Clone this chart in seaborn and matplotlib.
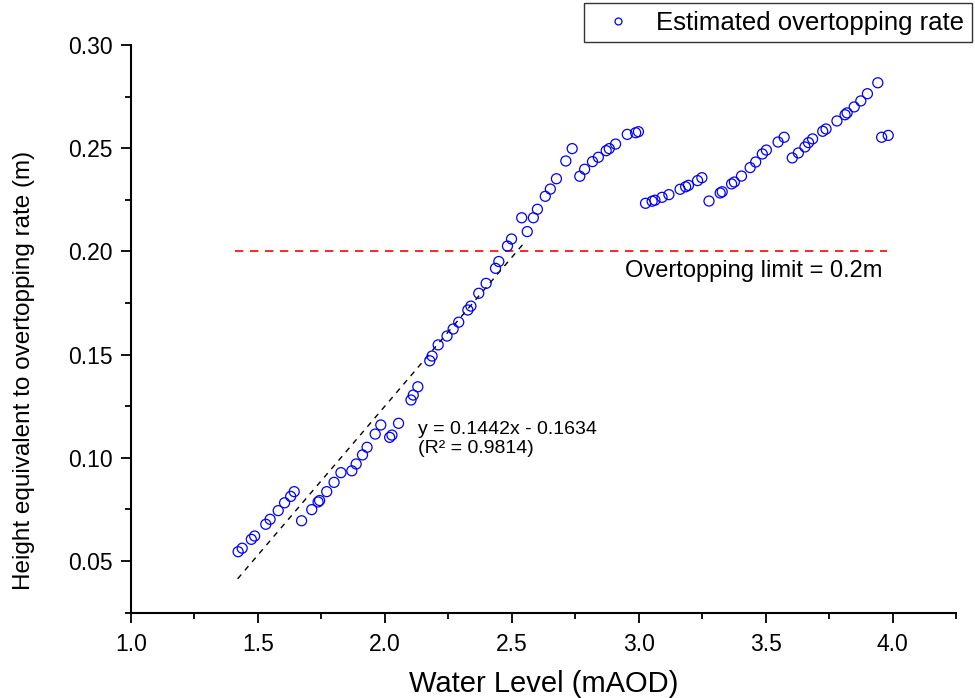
import matplotlib
matplotlib.use("Agg")
import matplotlib.pyplot as plt
from matplotlib.lines import Line2D
from matplotlib.ticker import MultipleLocator, FormatStrFormatter
import numpy as np
import pandas as pd
import seaborn as sns

# ---- data ----
water_level = [
    1.422, 1.438, 1.474, 1.487, 1.531, 1.548, 1.580, 1.605, 1.629, 1.643,
    1.672, 1.712, 1.737, 1.743, 1.771, 1.800, 1.827, 1.870, 1.887, 1.912,
    1.930, 1.962, 1.984, 2.019, 2.028, 2.054, 2.103, 2.112, 2.130, 2.177,
    2.186, 2.210, 2.245, 2.269, 2.291, 2.327, 2.339, 2.370, 2.399, 2.436,
    2.449, 2.483, 2.499, 2.539, 2.561, 2.585, 2.601, 2.632, 2.652, 2.676,
    2.713, 2.738, 2.768, 2.787, 2.818, 2.841, 2.872, 2.884, 2.909, 2.955,
    2.988, 2.999, 3.027, 3.053, 3.064, 3.092, 3.119, 3.163, 3.185, 3.196,
    3.232, 3.249, 3.277, 3.321, 3.329, 3.366, 3.377, 3.405, 3.439, 3.461,
    3.487, 3.503, 3.549, 3.573, 3.605, 3.629, 3.655, 3.669, 3.685, 3.725,
    3.738, 3.781, 3.813, 3.821, 3.849, 3.875, 3.901, 3.942, 3.957, 3.983,
]
overtop_height = [
    0.0545, 0.0562, 0.0605, 0.0621, 0.0678, 0.0702, 0.0744, 0.0782, 0.0813, 0.0836,
    0.0695, 0.0749, 0.0786, 0.0793, 0.0836, 0.0881, 0.0928, 0.0937, 0.0970, 0.1014,
    0.1051, 0.1115, 0.1159, 0.1099, 0.1110, 0.1167, 0.1280, 0.1304, 0.1344, 0.1470,
    0.1493, 0.1547, 0.1590, 0.1624, 0.1657, 0.1716, 0.1735, 0.1797, 0.1845, 0.1918,
    0.1951, 0.2026, 0.2060, 0.2163, 0.2096, 0.2163, 0.2204, 0.2267, 0.2302, 0.2352,
    0.2438, 0.2498, 0.2364, 0.2398, 0.2435, 0.2456, 0.2488, 0.2498, 0.2520, 0.2567,
    0.2575, 0.2580, 0.2233, 0.2243, 0.2248, 0.2262, 0.2275, 0.2301, 0.2313, 0.2320,
    0.2343, 0.2357, 0.2244, 0.2283, 0.2289, 0.2327, 0.2336, 0.2365, 0.2406, 0.2433,
    0.2472, 0.2491, 0.2530, 0.2553, 0.2453, 0.2477, 0.2506, 0.2527, 0.2545, 0.2582,
    0.2593, 0.2632, 0.2662, 0.2671, 0.2700, 0.2729, 0.2764, 0.2817, 0.2553, 0.2562,
]
fit_slope = 0.1442
fit_intercept = -0.1634
fit_r2 = 0.9814
fit_x_range = [1.42, 2.55]
limit_value = 0.2
limit_x_range = [1.41, 3.98]

series_label = "Estimated overtopping rate"
x_label = "Water Level (mAOD)"
y_label = "Height equivalent to overtopping rate (m)"
limit_text = "Overtopping limit = 0.2m"

df = pd.DataFrame({"x": water_level, "y": overtop_height})
fit_x = np.array(fit_x_range)
fit_df = pd.DataFrame({"x": fit_x, "y": fit_slope * fit_x + fit_intercept})
lim_df = pd.DataFrame({"x": limit_x_range, "y": [limit_value, limit_value]})

# ---- style ----
sns.set_style("ticks")
plt.rcParams["font.family"] = ["Liberation Sans", "DejaVu Sans"]
plt.rcParams["text.color"] = "black"
plt.rcParams["axes.labelcolor"] = "black"
plt.rcParams["xtick.color"] = "black"
plt.rcParams["ytick.color"] = "black"

fig = plt.figure(figsize=(9.75, 6.98), dpi=100)
ax = fig.add_axes([131 / 975, 1 - 612.6 / 698, (956 - 131) / 975, (612.6 - 45) / 698])

blue = "#0000FF"
sns.scatterplot(data=df, x="x", y="y", ax=ax, marker="o", s=52,
                linewidth=0.9, legend=False, zorder=3)
coll = ax.collections[0]
coll.set_facecolor("none")
coll.set_edgecolor(blue)

sns.lineplot(data=fit_df, x="x", y="y", ax=ax, color="black", linewidth=1.0,
             zorder=2)
ax.lines[-1].set_dashes([4, 4])
sns.lineplot(data=lim_df, x="x", y="y", ax=ax, color="#FF0000", linewidth=1.2,
             zorder=2)
ax.lines[-1].set_dashes([5, 4])

ax.text(2.132, 0.1089,
        f"y = {fit_slope:.4f}x - {abs(fit_intercept):.4f}\n(R\u00b2 = {fit_r2:.4f})",
        fontsize=14, ha="left", va="center", linespacing=1.15, color="black")
ax.text(2.947, 0.1905, limit_text, fontsize=17, ha="left", va="center",
        color="black")

ax.set_xlim(1.0, 4.25)
ax.set_ylim(0.025, 0.30)
ax.xaxis.set_major_locator(MultipleLocator(0.5))
ax.xaxis.set_minor_locator(MultipleLocator(0.25))
ax.yaxis.set_major_locator(MultipleLocator(0.05))
ax.yaxis.set_minor_locator(MultipleLocator(0.025))
ax.xaxis.set_major_formatter(FormatStrFormatter("%.1f"))
ax.yaxis.set_major_formatter(FormatStrFormatter("%.2f"))

sns.despine(ax=ax)
for side in ["left", "bottom"]:
    ax.spines[side].set_linewidth(1.5)
    ax.spines[side].set_color("black")
ax.tick_params(which="major", direction="out", length=7, width=1.3,
               labelsize=16.5, colors="black", labelcolor="black")
ax.tick_params(which="minor", direction="out", length=4, width=1.3, colors="black")
ax.tick_params(axis="y", which="major", pad=6)
ax.tick_params(axis="x", which="major", pad=8)

ax.set_xlabel(x_label, fontsize=21, labelpad=10, color="black")
ax.set_ylabel(y_label, fontsize=17.5, color="black")
ax.yaxis.set_label_coords(-0.116, 0.427)

handle = Line2D([], [], marker="o", linestyle="", markerfacecolor="none",
                markeredgecolor=blue, markersize=5, markeredgewidth=0.9)
leg = fig.legend([handle], [series_label], loc="upper right",
                 bbox_to_anchor=(972 / 975, 1 - 3 / 698), fontsize=18.5,
                 frameon=True, fancybox=False, edgecolor="black",
                 borderpad=0.3, handlelength=2.0, handletextpad=0.5,
                 borderaxespad=0.0)
leg.get_frame().set_linewidth(1.0)
for t in leg.get_texts():
    t.set_color("black")

fig.savefig("out.png", dpi=100, facecolor="white")
